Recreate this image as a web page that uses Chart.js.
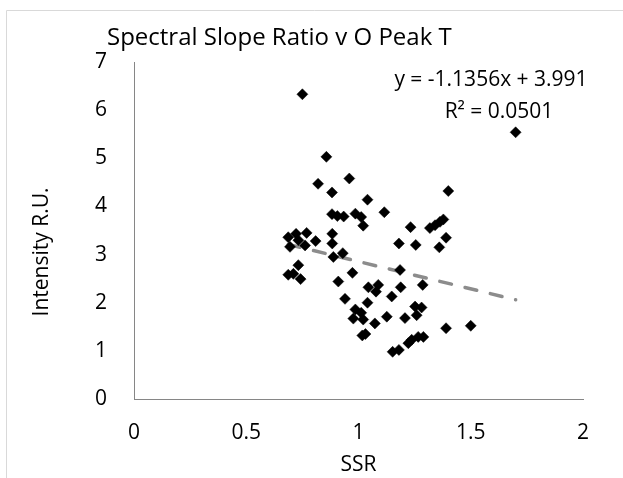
<!DOCTYPE html>
<html><head><meta charset="utf-8">
<script src="https://cdn.jsdelivr.net/npm/chart.js@4/dist/chart.umd.min.js"></script>
<style>html,body{margin:0;padding:0;background:#fff;overflow:hidden}canvas{display:block}</style>
</head><body>
<canvas id="c" width="623" height="478"></canvas>
<script>
const chartTitle = 'Spectral Slope Ratio v O Peak T';
const xTitle = 'SSR';
const yTitle = 'Intensity R.U.';
const ssr = [0.75,0.857,0.82,0.959,0.882,1.04,1.115,0.882,0.906,0.934,0.986,1.012,1.021,0.883,0.687,0.722,0.769,0.732,0.809,0.762,0.883,0.888,0.93,0.695,0.732,0.687,0.71,0.742,0.973,0.91,1.044,1.088,1.078,0.94,1.148,1.04,0.986,1.012,0.977,1.021,1.126,1.073,1.017,1.031,1.152,1.18,1.185,1.188,1.286,1.252,1.281,1.259,1.207,1.39,1.50,1.237,1.266,1.289,1.222,1.40,1.232,1.318,1.341,1.363,1.378,1.39,1.18,1.255,1.36,1.70];
const intensity = [6.33,5.03,4.47,4.58,4.29,4.14,3.88,3.84,3.80,3.79,3.85,3.78,3.60,3.43,3.36,3.43,3.45,3.30,3.28,3.19,3.23,2.95,3.03,3.16,2.78,2.58,2.60,2.49,2.62,2.44,2.32,2.37,2.23,2.08,2.13,2.00,1.86,1.79,1.67,1.65,1.71,1.57,1.32,1.35,0.98,1.02,2.68,2.32,2.37,1.92,1.90,1.74,1.68,1.47,1.52,1.23,1.29,1.29,1.16,4.32,3.57,3.55,3.61,3.68,3.73,3.35,3.23,3.20,3.15,5.54];
const trendSlope = -1.1356;
const trendIntercept = 3.991;
const trendX = [0.687, 1.70];
const equationLines = ['y = -1.1356x + 3.991', 'R\u00B2 = 0.0501'];
const xTickValues = [0, 0.5, 1, 1.5, 2];
const yTickValues = [0, 1, 2, 3, 4, 5, 6, 7];

const FONT = '"Open Sans", Lato, sans-serif';

const points = ssr.map((x, i) => ({x: x, y: intensity[i]}));
const trend = trendX.map(x => ({x: x, y: trendSlope * x + trendIntercept}));

const decor = {
  id: 'decor',
  beforeDraw(chart) {
    const ctx = chart.ctx;
    ctx.save();
    ctx.strokeStyle = '#d9d9d9';
    ctx.lineWidth = 1;
    ctx.beginPath();
    ctx.moveTo(6.5, 478); ctx.lineTo(6.5, 10.5); ctx.lineTo(623, 10.5);
    ctx.stroke();
    ctx.restore();
  },
  afterDraw(chart) {
    const ctx = chart.ctx;
    ctx.save();
    ctx.fillStyle = '#000';
    ctx.textBaseline = 'alphabetic';
    ctx.font = '24px ' + FONT;
    ctx.textAlign = 'left';
    ctx.fillText(chartTitle, 107, 45);
    ctx.font = '21px ' + FONT;
    ctx.textAlign = 'center';
    ctx.fillText(equationLines[0], 491, 86);
    ctx.fillText(equationLines[1], 499, 118);
    ctx.translate(48, 252);
    ctx.rotate(-Math.PI / 2);
    ctx.fillText(yTitle, 0, 0);
    ctx.restore();
  }
};

new Chart(document.getElementById('c'), {
  type: 'scatter',
  data: {
    datasets: [
      {
        label: 'Intensity',
        data: points,
        pointStyle: 'rectRot',
        pointRadius: 5.5,
        pointBackgroundColor: '#000',
        pointBorderColor: '#000',
        pointBorderWidth: 0.5,
        order: 1
      },
      {
        type: 'line',
        label: 'Trend',
        data: trend,
        borderColor: '#8c8c8c',
        borderWidth: 3.5,
        borderDash: [12, 14],
        borderCapStyle: 'round',
        pointRadius: 0,
        fill: false,
        order: 2
      }
    ]
  },
  options: {
    responsive: false,
    animation: false,
    devicePixelRatio: 1,
    layout: {padding: {left: 0, right: 40, top: 62, bottom: 0}},
    plugins: {
      legend: {display: false},
      title: {display: false},
      tooltip: {enabled: false}
    },
    scales: {
      x: {
        type: 'linear',
        min: 0, max: 2,
        afterBuildTicks: s => { s.ticks = xTickValues.map(v => ({value: v})); },
        afterFit: s => { s.height = 79; },
        grid: {display: false, drawTicks: false},
        border: {display: true, color: '#868686', width: 1},
        ticks: {
          color: '#000', padding: 21,
          font: {family: FONT, size: 21},
          callback: v => String(v)
        },
        title: {
          display: true, text: xTitle, color: '#000',
          font: {family: FONT, size: 21}, padding: {top: 0, bottom: 0}
        }
      },
      y: {
        type: 'linear',
        min: 0, max: 7,
        afterBuildTicks: s => { s.ticks = yTickValues.map(v => ({value: v})); },
        afterFit: s => { s.width = 134; },
        grid: {display: false, drawTicks: false},
        border: {display: true, color: '#868686', width: 1},
        ticks: {
          color: '#000', padding: 27,
          font: {family: FONT, size: 21},
          callback: v => String(v)
        }
      }
    }
  },
  plugins: [decor]
});
</script>
</body></html>
